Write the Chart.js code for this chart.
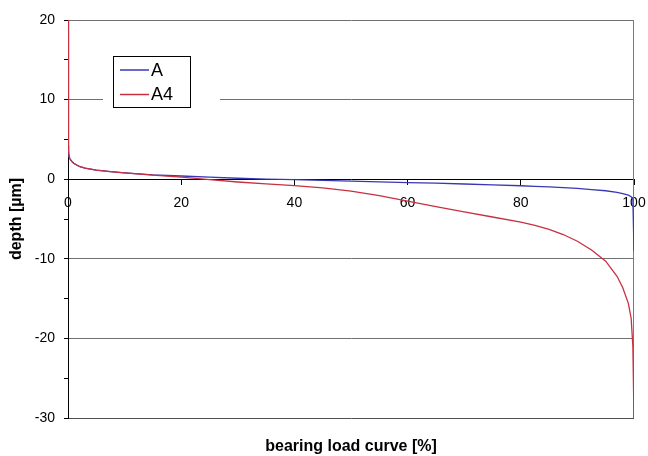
<!DOCTYPE html>
<html>
<head>
<meta charset="utf-8">
<title>bearing load curve</title>
<script src="https://cdn.jsdelivr.net/npm/chart.js@4.4.1/dist/chart.umd.min.js"></script>
<style>
  html, body { margin: 0; padding: 0; background: #fff; }
  #wrap { width: 648px; height: 456px; }
</style>
</head>
<body>
<div id="wrap"><canvas id="chart" width="648" height="456"></canvas></div>
<script>
// ======================================================
// Data
// ======================================================

// bearing share [%]
const bearingShare = [0, 0.1, 0.3, 0.6, 1, 2, 3, 5, 7.5, 10, 15, 20, 25, 30, 35, 40, 45, 50,
  55, 60, 65, 70, 75, 80, 82.5, 85, 87.5, 90, 92.5, 95, 97, 98, 99, 99.5, 99.8, 100];

// depth [µm] of series A
const depthA = [4.2, 3.0, 2.6, 2.3, 2.0, 1.6, 1.4, 1.15, 0.95, 0.8, 0.55, 0.4, 0.25, 0.12, 0.02, -0.06, -0.15, -0.25,
  -0.33, -0.42, -0.5, -0.6, -0.72, -0.82, -0.9, -0.97, -1.06, -1.15, -1.3, -1.45, -1.65, -1.8, -2.0, -2.2, -2.5, -9];

// depth [µm] of series A4
const depthA4 = [20, 3.5, 2.6, 2.3, 2.0, 1.6, 1.4, 1.15, 0.95, 0.8, 0.5, 0.25, -0.05, -0.35, -0.6, -0.8, -1.1, -1.5,
  -2.05, -2.75, -3.45, -4.1, -4.75, -5.4, -5.8, -6.3, -6.95, -7.8, -8.9, -10.3, -12.2, -13.6, -15.6, -17.5, -21, -30];

const seriesLabels = ['A', 'A4'];
const seriesColors = ['#3838b4', '#c83040'];

const xTicks = [0, 20, 40, 60, 80, 100];
const yTicks = [-30, -20, -10, 0, 10, 20];

const FONT = '"Liberation Sans", Arial, sans-serif';

function toPoints(xs, ys) {
  return xs.map((x, i) => ({ x: x, y: ys[i] }));
}

// ======================================================
// Plugins: right frame line and the boxed legend
// ======================================================

const frameLine = {
  id: 'frameLine',
  beforeDatasetsDraw(chart) {
    const a = chart.chartArea;
    const ctx = chart.ctx;
    ctx.save();
    ctx.strokeStyle = '#7a7a7a';
    ctx.lineWidth = 1;
    ctx.beginPath();
    ctx.moveTo(Math.round(a.right) - 0.5, a.top);
    ctx.lineTo(Math.round(a.right) - 0.5, a.bottom);
    ctx.stroke();
    ctx.restore();
  }
};

const boxLegend = {
  id: 'boxLegend',
  afterDatasetsDraw(chart) {
    const ctx = chart.ctx;
    ctx.save();
    // white area hides the gridline around the box
    ctx.fillStyle = '#fff';
    ctx.fillRect(103, 54, 117, 56);
    ctx.strokeStyle = '#000';
    ctx.lineWidth = 1;
    ctx.strokeRect(113.5, 56.5, 77, 51);

    ctx.font = '18px ' + FONT;
    ctx.textBaseline = 'middle';
    ctx.textAlign = 'left';
    chart.data.datasets.forEach((ds, i) => {
      const y = 70 + i * 24.5;
      ctx.strokeStyle = ds.borderColor;
      ctx.lineWidth = 1.5;
      ctx.beginPath();
      ctx.moveTo(120, y);
      ctx.lineTo(149, y);
      ctx.stroke();
      ctx.fillStyle = '#000';
      ctx.fillText(ds.label, 151, y + 1);
    });
    ctx.restore();
  }
};

// ======================================================
// Chart
// ======================================================

new Chart(document.getElementById('chart').getContext('2d'), {
  type: 'scatter',
  data: {
    datasets: [
      {
        label: seriesLabels[0],
        data: toPoints(bearingShare, depthA),
        borderColor: seriesColors[0],
        backgroundColor: seriesColors[0],
        borderWidth: 1.3,
        showLine: true,
        pointRadius: 0,
        tension: 0,
        order: 2
      },
      {
        label: seriesLabels[1],
        data: toPoints(bearingShare, depthA4),
        borderColor: seriesColors[1],
        backgroundColor: seriesColors[1],
        borderWidth: 1.3,
        showLine: true,
        pointRadius: 0,
        tension: 0,
        order: 1
      }
    ]
  },
  options: {
    responsive: false,
    animation: false,
    layout: { padding: { top: 20, right: 14, bottom: 0, left: 0 } },
    plugins: {
      legend: { display: false },
      tooltip: { enabled: false },
      title: {
        display: true,
        position: 'bottom',
        fullSize: false,
        text: 'bearing load curve [%]',
        color: '#000',
        font: { family: FONT, size: 16, weight: 'bold' },
        padding: { top: 18.8, bottom: 0 }
      }
    },
    scales: {
      x: {
        type: 'linear',
        position: { y: 0 },
        min: 0,
        max: 100,
        afterBuildTicks: (s) => { s.ticks = xTicks.map(v => ({ value: v })); },
        afterFit: (s) => {
          // the axis sits inside the plot, so it takes no room of its own
          s.height = 0;
          s.paddingLeft = 0;
          s.paddingRight = 0;
        },
        ticks: {
          color: '#000',
          font: { family: FONT, size: 14 },
          padding: 11,
          maxRotation: 0
        },
        grid: { drawOnChartArea: false, drawTicks: true, tickLength: 5, tickColor: '#000' },
        border: { color: '#000', width: 1 }
      },
      y: {
        type: 'linear',
        position: 'left',
        min: -30,
        max: 20,
        afterBuildTicks: (s) => {
          // minor ticks every 5, labels only on yTicks
          const t = [];
          for (let v = -30; v <= 20; v += 5) t.push({ value: v });
          s.ticks = t;
        },
        afterFit: (s) => { s.width = 68; },
        ticks: {
          color: '#000',
          font: { family: FONT, size: 14 },
          padding: 9,
          callback: (v) => yTicks.includes(v) ? String(v) : ''
        },
        grid: {
          tickLength: 4,
          tickColor: '#000',
          color: (c) => {
            const v = c.tick ? c.tick.value : null;
            if (v === 0 || !yTicks.includes(v)) return 'rgba(0,0,0,0)';
            if (v === -30) return '#505050';
            return '#707070';
          }
        },
        border: { color: '#000', width: 1 },
        title: {
          display: true,
          text: 'depth [µm]',
          color: '#000',
          font: { family: FONT, size: 16, weight: 'bold' },
          padding: { top: 7, bottom: 0 }
        }
      }
    }
  },
  plugins: [frameLine, boxLegend]
});
</script>
</body>
</html>
